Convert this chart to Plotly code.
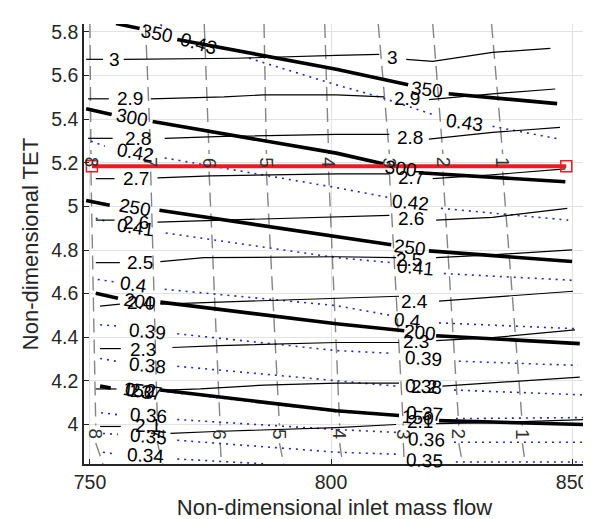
import plotly.graph_objects as go

# ---------------- data ----------------
# thin black contours (labelled 3 ... 2.1)
pr_levels = ["3", "2.9", "2.8", "2.7", "2.6", "2.5", "2.4", "2.3", "2.2", "2.1"]
pr_x = [
    [749.2, 752.7, None, 757.0, 780.5, 801.1, 810.0, None, 815.6, 821.1, 833.5, 845.5],
    [749.6, 753.9, None, 762.6, 777.8, 786.0, 801.1, 811.0, None, 820.3, 833.5, 846.5],
    [749.6, 754.7, None, 765.5, 777.8, 801.1, 812.1, None, 820.3, 833.5, 847.5],
    [751.2, 755.1, None, 764.0, 775.0, 801.1, 812.1, None, 821.1, 833.5, 848.6],
    [751.2, 755.1, None, 764.0, 801.1, 812.1, None, 821.8, 833.5, 849.0],
    [751.2, 756.2, None, 764.6, 773.7, 801.1, 813.5, None, 821.8, 833.5, 850.0],
    [752.1, 756.2, None, 764.6, 801.1, 814.1, None, 822.4, 833.5, 850.2],
    [752.1, 756.4, None, 767.1, 776.9, 801.1, 814.1, None, 821.8, 833.5, 850.6],
    [751.2, 755.5, None, 765.5, 772.9, 786.1, 801.1, 814.1, None, 823.1, 833.5, 851.6],
    [752.1, 756.4, None, 766.7, 775.9, 801.1, 813.5, None, 821.8, 833.5, 852.7],
]
pr_y = [
    [5.674, 5.674, None, 5.674, 5.679, 5.692, 5.697, None, 5.674, 5.665, 5.706, 5.724],
    [5.493, 5.493, None, 5.493, 5.502, 5.511, 5.511, 5.502, None, 5.489, 5.516, 5.538],
    [5.312, 5.312, None, 5.312, 5.321, 5.330, 5.330, None, 5.308, 5.339, 5.362],
    [5.127, 5.127, None, 5.131, 5.140, 5.149, 5.149, None, 5.127, 5.145, 5.172],
    [4.937, 4.937, None, 4.928, 4.950, 4.959, None, 4.937, 4.950, 4.991],
    [4.742, 4.742, None, 4.747, 4.765, 4.769, 4.765, None, 4.765, 4.778, 4.801],
    [4.543, 4.552, None, 4.552, 4.580, 4.588, None, 4.566, 4.584, 4.611],
    [4.348, 4.348, None, 4.353, 4.362, 4.376, 4.376, None, 4.385, 4.398, 4.434],
    [4.163, 4.163, None, 4.158, 4.163, 4.181, 4.190, 4.190, None, 4.176, 4.190, 4.217],
    [3.991, 3.991, None, 3.959, 3.968, 3.986, 4.000, None, 4.004, 4.009, 4.023],
]
pr_label_x = [[755.0, 812.8], [758.3, 815.7], [760.0, 816.4], [759.5, 816.6], [759.5, 816.6],
              [760.3, 816.2], [760.5, 817.4], [761.0, 817.6], [761.0, 819.3], [762.0, 818.5]]
pr_label_y = [[5.674, 5.683], [5.493, 5.493], [5.312, 5.317], [5.127, 5.131], [4.928, 4.946],
              [4.742, 4.756], [4.561, 4.566], [4.344, 4.380], [4.154, 4.176], [3.995, 4.013]]

# thick black contours (labelled 350 ... 150)
tt_levels = ["350", "300", "250", "200", "150"]
tt_x = [
    [755.4, 760.3, None, 768.1, 801.1, 816.0, None, 824.4, 846.9],
    [749.2, 754.5, None, 763.0, 801.1, 810.8, None, 818.2, 848.6],
    [749.2, 754.1, None, 764.4, 801.1, 812.5, None, 820.3, 850.0],
    [751.2, 755.8, None, 764.6, 801.1, 815.2, None, 821.8, 851.6],
    [752.1, 754.3, None, 764.6, 801.1, 814.1, None, 822.4, 852.3],
]
tt_y = [
    [5.838, 5.815, None, 5.765, 5.629, 5.557, None, 5.516, 5.471],
    [5.448, 5.421, None, 5.389, 5.244, 5.195, None, 5.154, 5.113],
    [5.027, 5.005, None, 4.982, 4.860, 4.824, None, 4.796, 4.747],
    [4.602, 4.579, None, 4.561, 4.462, 4.430, None, 4.407, 4.371],
    [4.176, 4.167, None, 4.158, 4.063, 4.041, None, 4.018, 4.000],
]
tt_label_x = [[763.9, 820.0], [758.8, 814.5], [759.3, 816.4], [760.3, 818.5], [760.1, 818.1]]
tt_label_y = [[5.792, 5.536], [5.407, 5.172], [4.993, 4.810], [4.566, 4.421], [4.158, 4.032]]

# blue dotted contours (labelled 0.43 ... 0.34)
eff_levels = ["0.43", "0.42", "0.41", "0.4", "0.39", "0.38", "0.37", "0.36", "0.35", "0.34"]
eff_x = [
    [764.6, 766.3, None, 783.0, 801.1, 810.0, 821.1, None, 833.5, 847.5],
    [750.2, 753.1, None, 765.5, 801.1, 811.9, None, 822.8, 849.2],
    [751.2, 753.3, None, 765.7, 801.1, 812.5, None, 823.4, 850.2],
    [751.6, 755.7, None, 765.5, 801.1, 812.9, None, 822.4, 851.0],
    [752.1, 755.4, None, 768.1, 801.1, 812.9, None, 826.5, 851.2],
    [752.1, 755.4, None, 768.1, 801.1, 813.5, None, 825.5, 852.1],
    [752.1, 754.3, None, 764.6, 801.1, 814.1, None, 825.9, 852.7],
    [752.3, 755.8, None, 768.1, 801.1, 813.5, None, 825.5, 852.7],
    [752.7, 755.8, None, 768.1, 801.1, 813.5, None, 825.9, 852.7],
    [752.7, 755.4, None, 768.1, 786.7],
]
eff_y = [
    [5.833, 5.810, None, 5.679, 5.557, 5.502, 5.421, None, 5.367, 5.308],
    [5.299, 5.276, None, 5.222, 5.086, 5.041, None, 4.991, 4.937],
    [4.946, 4.932, None, 4.878, 4.765, 4.742, None, 4.692, 4.661],
    [4.665, 4.652, None, 4.620, 4.545, 4.498, None, 4.466, 4.439],
    [4.457, 4.452, None, 4.416, 4.339, 4.326, None, 4.290, 4.271],
    [4.303, 4.290, None, 4.267, 4.199, 4.176, None, 4.158, 4.136],
    [4.172, 4.163, None, 4.154, 4.059, 4.041, None, 4.027, 4.032],
    [4.054, 4.045, None, 4.023, 3.977, 3.964, None, 3.919, 3.919],
    [3.959, 3.955, None, 3.928, 3.873, 3.864, None, 3.828, 3.828],
    [3.873, 3.864, None, 3.842, 3.819],
]
eff_label_x = [[772.5, 827.6], [759.5, 816.4], [759.5, 817.6], [759.1, 815.8], [762.0, 819.1],
               [762.0, 819.1], [761.0, 819.3], [762.2, 819.7], [762.2, 819.3], [761.5]]
eff_label_y = [[5.745, 5.385], [5.249, 5.018], [4.905, 4.720], [4.643, 4.475], [4.425, 4.303],
               [4.271, 4.176], [4.150, 4.050], [4.041, 3.932], [3.946, 3.837], [3.860]]

# gray dashed near-vertical contours (labelled 8 ... 1)
sp_levels = ["8", "7", "6", "5", "4", "3", "2", "1"]
sp_x_top = [750.0, 761.5, 773.7, 786.1, 798.7, 809.8, 821.1, 833.3]
sp_x_label_top = [750.2, 762.6, 774.7, 786.6, 799.5, 812.1, 823.2, 835.6]
sp_x_label_bottom = [751.2, 764.0, 777.0, 789.3, 801.8, 815.0, 826.5, 839.7]
sp_x_bottom = [752.7, 765.1, 777.3, 790.2, 802.4, 815.2, 827.3, 840.3]
sp_y_ends = [5.836, 3.819]
sp_label_y = [5.200, 3.955]

# red operating line
op_x = [750.4, 848.8]
op_y = [5.184, 5.184]

# axes
x_range = [748.76, 852.68]
y_range = [3.819, 5.836]
x_ticks = [750, 800, 850]
y_ticks = [4, 4.2, 4.4, 4.6, 4.8, 5, 5.2, 5.4, 5.6, 5.8]
y_tick_text = ["4", "4.2", "4.4", "4.6", "4.8", "5", "5.2", "5.4", "5.6", "5.8"]

# ---------------- styles ----------------
FONT = "Liberation Sans, Arial, Helvetica, sans-serif"
AX = "#262626"
LBL = 19
tt_angles = [[11, 6], [10, 7], [10, 7], [9, 5], [8, 4]]
eff_angles = [[16, 8], [10, 5], [8, 5], [8, 5], [5, 4], [5, 3], [8, 3], [4, 2], [5, 2], [3]]
GAP = 0.04

fig = go.Figure()
ann = []

def label(x, y, t, ang=0, color="black"):
    ann.append(dict(x=x, y=y, text=t, showarrow=False, textangle=ang,
                    xref="x", yref="y", xanchor="center", yanchor="middle",
                    font=dict(family=FONT, size=LBL, color=color)))

# gray dashed
for i, lv in enumerate(sp_levels):
    yt, yb = sp_y_ends
    ly1, ly2 = sp_label_y
    xs = [sp_x_top[i], sp_x_label_top[i], None, sp_x_label_top[i], sp_x_label_bottom[i], None,
          sp_x_label_bottom[i], sp_x_bottom[i]]
    ys = [yt, ly1 + GAP, None, ly1 - GAP, ly2 + GAP, None, ly2 - GAP, yb]
    fig.add_trace(go.Scatter(x=xs, y=ys, mode="lines", hoverinfo="skip", showlegend=False,
                             line=dict(color="#858585", width=1.4, dash="14px,7px")))
    label(sp_x_label_top[i], ly1, lv, 90, "#333333")
    label(sp_x_label_bottom[i], ly2, lv, 90, "#333333")

# blue dotted
for i, lv in enumerate(eff_levels):
    fig.add_trace(go.Scatter(x=eff_x[i], y=eff_y[i], mode="lines", hoverinfo="skip", showlegend=False,
                             line=dict(color="rgb(40,40,170)", width=1.6, dash="2px,5px")))
    for lx, ly, a in zip(eff_label_x[i], eff_label_y[i], eff_angles[i]):
        label(lx, ly, lv, a)

# thin black
for i, lv in enumerate(pr_levels):
    fig.add_trace(go.Scatter(x=pr_x[i], y=pr_y[i], mode="lines", hoverinfo="skip", showlegend=False,
                             line=dict(color="black", width=1.2)))
    for lx, ly in zip(pr_label_x[i], pr_label_y[i]):
        label(lx, ly, lv, 0)

# thick black
for i, lv in enumerate(tt_levels):
    fig.add_trace(go.Scatter(x=tt_x[i], y=tt_y[i], mode="lines", hoverinfo="skip", showlegend=False,
                             line=dict(color="black", width=3.6)))
    for lx, ly, a in zip(tt_label_x[i], tt_label_y[i], tt_angles[i]):
        label(lx, ly, lv, a)

# red operating line
fig.add_trace(go.Scatter(x=op_x, y=op_y, mode="lines+markers", hoverinfo="skip", showlegend=False,
                         line=dict(color="rgb(232,28,36)", width=4),
                         marker=dict(symbol="square-open", size=11, color="rgb(232,28,36)",
                                     line=dict(width=1.5, color="rgb(232,28,36)"))))

fig.update_layout(
    width=591, height=519,
    margin=dict(l=76, r=11, t=16, b=57),
    paper_bgcolor="white", plot_bgcolor="white",
    font=dict(family=FONT, color=AX),
    annotations=ann,
    xaxis=dict(range=x_range, tickvals=x_ticks, showgrid=True, gridcolor="#e2e2e2", gridwidth=1,
               showline=True, linecolor=AX, linewidth=1.6, ticks="inside", ticklen=5, tickcolor=AX,
               zeroline=False, tickfont=dict(size=19.5, color=AX, family=FONT),
               title=dict(text="Non-dimensional inlet mass flow", font=dict(size=22, color=AX, family=FONT),
                          standoff=7)),
    yaxis=dict(range=y_range, tickvals=y_ticks, ticktext=y_tick_text, showgrid=True, gridcolor="#e2e2e2",
               gridwidth=1, showline=True, linecolor=AX, linewidth=1.6, ticks="inside", ticklen=5,
               tickcolor=AX, zeroline=False, tickfont=dict(size=19.5, color=AX, family=FONT),
               title=dict(text="Non-dimensional TET", font=dict(size=22, color=AX, family=FONT),
                          standoff=6)),
)

fig.write_html("out.html")
